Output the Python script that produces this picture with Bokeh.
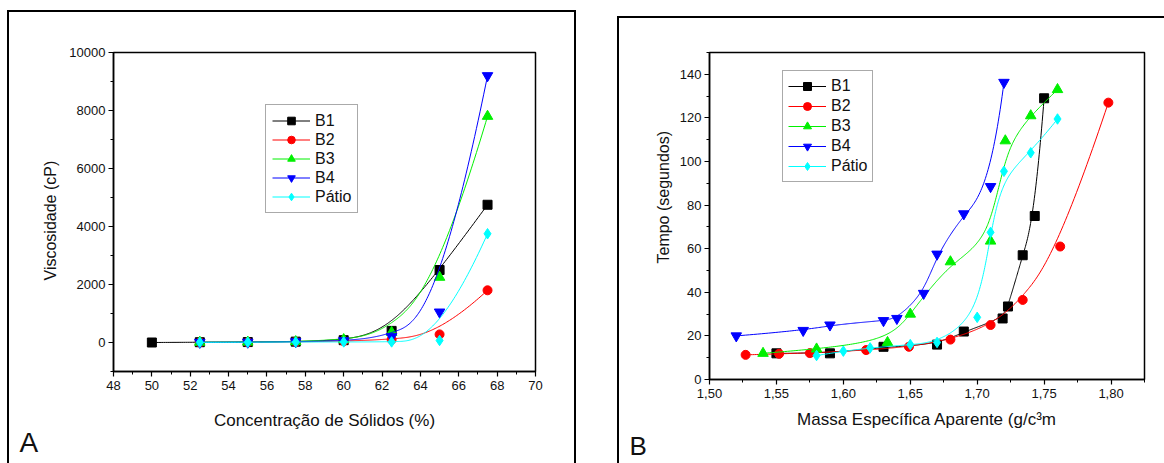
import math
import numpy as np
from bokeh.plotting import figure
from bokeh.models import (Range1d, SingleIntervalTicker, Legend, LegendItem, Title,
                          CustomJSTickFormatter)
from bokeh.layouts import row
from bokeh.embed import file_html
from bokeh.resources import INLINE

# ---------------- data ----------------
series = ["B1", "B2", "B3", "B4", "Pátio"]
colors = ["#000000", "#ff0000", "#00f000", "#0000ff", "#00ffff"]
markers = ["square", "circle", "triangle", "inverted_triangle", "diamond"]

# Panel A: Viscosidade (cP) vs Concentração de Sólidos (%)
a_x_b1 = [50, 52.5, 55, 57.5, 60, 62.5, 65, 67.5]
a_y_b1 = [0, 10, 15, 30, 80, 400, 2500, 4750]
a_x = [52.5, 55, 57.5, 60, 62.5, 65, 67.5]
a_y_b2 = [5, 10, 20, 50, 100, 280, 1800]
a_y_b3 = [10, 15, 30, 100, 350, 2250, 7800]
a_y_b4 = [5, 10, 25, 60, 200, 1050, 9200]
a_y_pt = [5, 10, 15, 20, 20, 70, 3750]

# Panel B: Tempo (segundos) vs Massa Específica Aparente
b_x_b1 = [1.55, 1.59, 1.63, 1.67, 1.69, 1.719, 1.723, 1.734, 1.743, 1.75]
b_y_b1 = [12, 12, 15, 16, 22, 28, 33.5, 57, 75, 129]
b_x_b2 = [1.527, 1.552, 1.575, 1.617, 1.649, 1.68, 1.71, 1.734, 1.762, 1.798]
b_y_b2 = [11.3, 11.8, 12.1, 13.5, 15, 18.3, 25, 36.5, 61, 127]
b_x_b3 = [1.54, 1.58, 1.633, 1.65, 1.68, 1.71, 1.721, 1.74, 1.76]
b_y_b3 = [12, 14, 17, 30, 54, 63.5, 109.5, 121, 133]
b_x_b4 = [1.52, 1.57, 1.59, 1.63, 1.64, 1.66, 1.67, 1.69, 1.71, 1.72]
b_y_b4 = [20, 22.5, 25, 27, 28, 39.5, 57.5, 76, 88.5, 136.3]
b_x_pt = [1.58, 1.60, 1.62, 1.65, 1.67, 1.70, 1.71, 1.72, 1.74, 1.76]
b_y_pt = [11, 13, 14.5, 16, 17, 28.5, 67.5, 95.5, 104, 119.5]

a_tick_x = 2
a_tick_y = 2000
b_tick_x = 0.05
b_tick_y = 20

FONT = "Liberation Sans"
TXT = "#111111"


def bspline(xs, ys, n=300):
    """Clamped uniform cubic B-spline using the data points as control points."""
    P = np.column_stack([xs, ys]).astype(float)
    m = len(P)
    k = min(3, m - 1)
    nk = m - k
    knots = np.concatenate([np.zeros(k), np.arange(nk + 1), np.full(k, nk)]).astype(float)
    out = []
    for u in np.linspace(0, nk, n):
        t = int(min(math.floor(u), nk - 1))
        s = t + k
        d = [P[j + s - k].copy() for j in range(k + 1)]
        for r in range(1, k + 1):
            for j in range(k, r - 1, -1):
                i = j + s - k
                den = knots[i + k + 1 - r] - knots[i]
                a = (u - knots[i]) / den if den else 0.0
                d[j] = (1 - a) * d[j - 1] + a * d[j]
        out.append(d[k])
    out = np.array(out)
    return out[:, 0], out[:, 1]


def style_axes(p, xint, yint):
    for ax in (p.xaxis[0], p.yaxis[0]):
        ax.axis_line_color = "black"
        ax.axis_line_width = 1.5
        ax.major_tick_line_color = "black"
        ax.minor_tick_line_color = "black"
        ax.major_tick_line_width = 1.2
        ax.minor_tick_line_width = 1.0
        ax.major_tick_in = 0
        ax.major_tick_out = 5
        ax.minor_tick_in = 0
        ax.minor_tick_out = 3
        ax.major_label_text_font = FONT
        ax.major_label_text_font_size = "13px"
        ax.major_label_text_color = TXT
        ax.axis_label_text_font = FONT
        ax.axis_label_text_font_size = "17px"
        ax.axis_label_text_font_style = "normal"
        ax.axis_label_text_color = TXT
    p.xaxis[0].ticker = SingleIntervalTicker(interval=xint, num_minor_ticks=2)
    p.yaxis[0].ticker = SingleIntervalTicker(interval=yint, num_minor_ticks=2)
    p.xaxis[0].major_label_standoff = 4
    p.yaxis[0].major_label_standoff = 3
    p.xgrid.visible = False
    p.ygrid.visible = False
    p.outline_line_color = "black"
    p.outline_line_width = 1.5
    p.background_fill_color = "white"
    p.border_fill_color = None


def add_series(p, xs, ys, color, marker, name):
    cx, cy = bspline(xs, ys)
    ln = p.line(cx, cy, line_color=color, line_width=1)
    sc = p.scatter(xs, ys, marker=marker, size=9 if marker in ("square", "circle") else 10.5,
                   fill_color=color, line_color=color)
    return LegendItem(label=name, renderers=[ln, sc])


def make_legend(p, items, loc, pad, gh):
    lg = Legend(items=items, location=loc, padding=pad, spacing=0, margin=0,
                glyph_width=38, glyph_height=gh, label_standoff=5,
                label_text_font=FONT, label_text_font_size="16px",
                label_text_color=TXT, label_height=gh,
                border_line_color="#555555", border_line_width=1,
                background_fill_color="white", background_fill_alpha=1)
    p.add_layout(lg)


def title(text, size, align="left", offset=0, standoff=10, valign="bottom"):
    return Title(text=text, align=align, offset=offset, standoff=standoff,
                 vertical_align=valign, text_font=FONT, text_font_size=size,
                 text_font_style="normal", text_color=TXT)


# ---------------- Panel A ----------------
pA = figure(width=569, height=455, x_range=Range1d(48, 70), y_range=Range1d(-1000, 10000),
            title=None, output_backend="svg", toolbar_location=None,
            min_border_left=106, min_border_right=41, min_border_top=52, min_border_bottom=84)
pA.margin = (0, 0, 0, 7)
style_axes(pA, a_tick_x, a_tick_y)
pA.xaxis[0].axis_label = "Concentração de Sólidos (%)"
pA.xaxis[0].axis_label_standoff = 18

itemsA = [add_series(pA, a_x_b1, a_y_b1, colors[0], markers[0], series[0])]
for ys, c, mk, nm in zip([a_y_b2, a_y_b3, a_y_b4, a_y_pt], colors[1:], markers[1:], series[1:]):
    itemsA.append(add_series(pA, a_x, ys, c, mk, nm))
make_legend(pA, itemsA, (152, 158), 6, 19)

pA.add_layout(title("Viscosidade (cP)", "16px", "left", 91, 15), "left")
pA.add_layout(title("A", "28px", "left", -94, -12, "top"), "below")

# ---------------- Panel B ----------------
pB = figure(width=547, height=463, x_range=Range1d(1.5, 1.825), y_range=Range1d(0, 150),
            title=None, output_backend="svg", toolbar_location=None,
            min_border_left=92, min_border_right=20, min_border_top=51, min_border_bottom=84)
pB.margin = (0, 0, 0, 41)
style_axes(pB, b_tick_x, b_tick_y)
pB.xaxis[0].formatter = CustomJSTickFormatter(code="return tick.toFixed(2).replace('.', ',');")
pB.xaxis[0].axis_label = "Massa Específica Aparente (g/c³m"
pB.xaxis[0].axis_label_standoff = 9

itemsB = []
for xs, ys, c, mk, nm in zip([b_x_b1, b_x_b2, b_x_b3, b_x_b4, b_x_pt],
                             [b_y_b1, b_y_b2, b_y_b3, b_y_b4, b_y_pt],
                             colors, markers, series):
    itemsB.append(add_series(pB, xs, ys, c, mk, nm))
make_legend(pB, itemsB, (73, 197), 5, 20)

pB.add_layout(title("Tempo (segundos)", "16px", "left", 116, 10), "left")
pB.add_layout(title("B", "26px", "left", -80, -2, "top"), "below")

# panel frames (outer boxes) drawn as the page layout's background
LINE = "linear-gradient(#000000,#000000)"
frames = [
    (7, 10, 569, 2), (7, 10, 2, 453), (574, 10, 2, 453),   # panel A box
    (617, 16, 547, 2), (617, 16, 2, 447),                 # panel B box
]
bg = ", ".join(f"{LINE} {x}px {y}px / {w}px {h}px no-repeat" for x, y, w, h in frames)

layout = row(pA, pB)
layout.styles = {"background": bg + ", #ffffff"}
open("out.html", "w").write(file_html(layout, INLINE))
